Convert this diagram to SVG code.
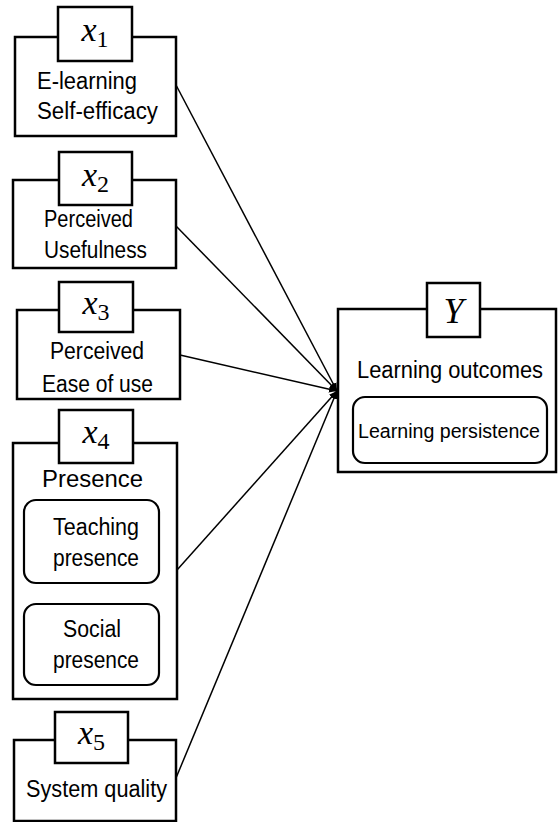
<svg xmlns="http://www.w3.org/2000/svg" width="558" height="822" viewBox="0 0 558 822">
<style>
  .box { fill: #ffffff; stroke: #000000; stroke-width: 2.5; }
  .inner { fill: #ffffff; stroke: #000000; stroke-width: 2.2; }
  .lbl { font-family: "Liberation Sans", Arial, sans-serif; font-size: 23px; fill: #000000; }
  .big { font-size: 24.5px; }
  .small { font-size: 20px; }
  .math { font-family: "Liberation Serif", "Times New Roman", serif; font-size: 34px; fill: #000000; text-anchor: middle; }
  .conn { stroke: #000000; stroke-width: 1.5; fill: none; marker-end: url(#arrow); }
</style>
<defs>
  <marker id="arrow" markerUnits="userSpaceOnUse" markerWidth="9" markerHeight="8" refX="8" refY="4" orient="auto">
    <path d="M0,0.5 L8,4 L0,7.5 z" fill="#000000"/>
  </marker>
</defs>
<rect width="558" height="822" fill="#ffffff"/>

<g id="connectors">
  <line class="conn" x1="176" y1="85" x2="337" y2="391"/>
  <line class="conn" x1="176" y1="226" x2="337" y2="391"/>
  <line class="conn" x1="180" y1="355" x2="337" y2="391"/>
  <line class="conn" x1="177" y1="570" x2="337" y2="391"/>
  <line class="conn" x1="176" y1="778" x2="337" y2="391"/>
</g>

<g id="x1">
  <rect class="box" x="15" y="37" width="161" height="99"/>
  <rect class="box" x="58" y="7" width="74" height="54"/>
  <text class="math" x="95" y="41"><tspan font-style="italic">x</tspan><tspan font-size="24" dy="6">1</tspan></text>
  <text class="lbl" x="37" y="89" textLength="100" lengthAdjust="spacingAndGlyphs">E-learning</text>
  <text class="lbl" x="37" y="119" textLength="121" lengthAdjust="spacingAndGlyphs">Self-efficacy</text>
</g>

<g id="x2">
  <rect class="box" x="13" y="180" width="163" height="88"/>
  <rect class="box" x="59" y="152" width="73" height="53"/>
  <text class="math" x="95.5" y="186"><tspan font-style="italic">x</tspan><tspan font-size="24" dy="6">2</tspan></text>
  <text class="lbl" x="44" y="227" textLength="89" lengthAdjust="spacingAndGlyphs">Perceived</text>
  <text class="lbl" x="44" y="258" textLength="103" lengthAdjust="spacingAndGlyphs">Usefulness</text>
</g>

<g id="x3">
  <rect class="box" x="17" y="310" width="163" height="89"/>
  <rect class="box" x="59" y="282" width="74" height="50"/>
  <text class="math" x="96" y="314"><tspan font-style="italic">x</tspan><tspan font-size="24" dy="6">3</tspan></text>
  <text class="lbl" x="50" y="359" textLength="94" lengthAdjust="spacingAndGlyphs">Perceived</text>
  <text class="lbl" x="42" y="392" textLength="111" lengthAdjust="spacingAndGlyphs">Ease of use</text>
</g>

<g id="x4">
  <rect class="box" x="13" y="443" width="164" height="256"/>
  <rect class="box" x="59" y="410" width="74" height="53"/>
  <text class="math" x="96" y="443"><tspan font-style="italic">x</tspan><tspan font-size="24" dy="6">4</tspan></text>
  <text class="lbl big" x="42" y="487" textLength="101" lengthAdjust="spacingAndGlyphs">Presence</text>
  <rect class="inner" x="24" y="500" width="135" height="83" rx="12" ry="12"/>
  <text class="lbl" x="53" y="535" textLength="86" lengthAdjust="spacingAndGlyphs">Teaching</text>
  <text class="lbl" x="53" y="566" textLength="86" lengthAdjust="spacingAndGlyphs">presence</text>
  <rect class="inner" x="24" y="604" width="135" height="81" rx="12" ry="12"/>
  <text class="lbl" x="63" y="637" textLength="58" lengthAdjust="spacingAndGlyphs">Social</text>
  <text class="lbl" x="53" y="668" textLength="86" lengthAdjust="spacingAndGlyphs">presence</text>
</g>

<g id="x5">
  <rect class="box" x="14" y="740" width="162" height="81"/>
  <rect class="box" x="55" y="712" width="73" height="51"/>
  <text class="math" x="91.5" y="744"><tspan font-style="italic">x</tspan><tspan font-size="24" dy="6">5</tspan></text>
  <text class="lbl" x="26" y="797" textLength="141" lengthAdjust="spacingAndGlyphs">System quality</text>
</g>

<g id="Y">
  <rect class="box" x="338" y="309" width="218" height="163"/>
  <rect class="box" x="427" y="283" width="53" height="54"/>
  <text class="math" x="453.5" y="323" style="font-size:36px;font-style:italic">Y</text>
  <text class="lbl" x="357" y="378" textLength="186" lengthAdjust="spacingAndGlyphs">Learning outcomes</text>
  <rect class="inner" x="353" y="397" width="194" height="66" rx="12" ry="12"/>
  <text class="lbl small" x="449" y="438" text-anchor="middle" textLength="182" lengthAdjust="spacingAndGlyphs">Learning persistence</text>
</g>
</svg>
